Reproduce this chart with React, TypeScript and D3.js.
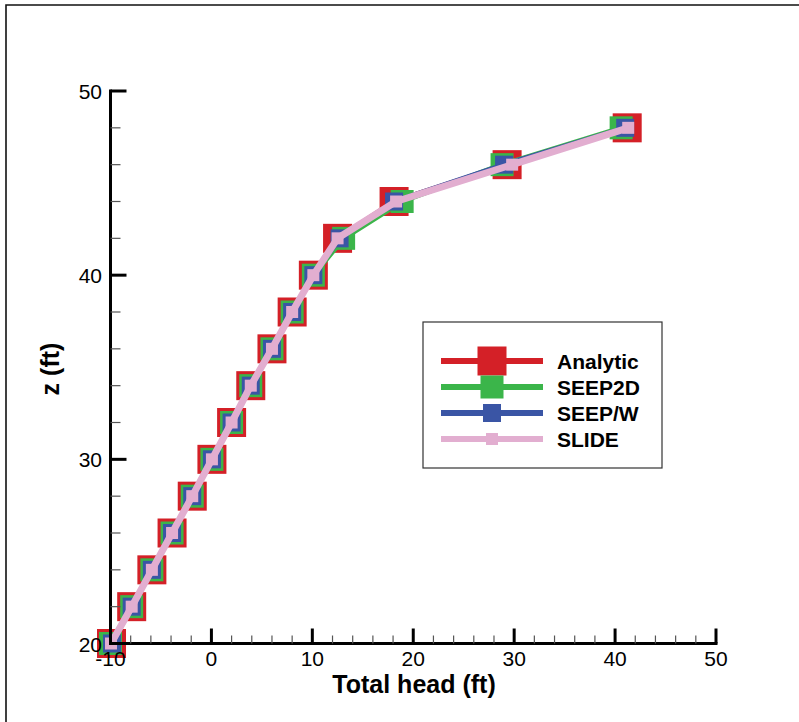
import React from "react";
import * as d3 from "d3";

const zValues = [20, 22, 24, 26, 28, 30, 32, 34, 36, 38, 40, 42, 44, 46, 48];
const analytic = [-9.9, -7.9, -5.9, -3.9, -1.9, 0.05, 2.0, 3.9, 6.0, 8.0, 10.1, 12.5, 18.1, 29.3, 41.2];
const seep2d = [-10.0, -7.9, -5.9, -3.9, -1.9, 0.05, 2.0, 3.9, 6.0, 8.0, 10.1, 13.1, 18.9, 28.8, 40.6];
const seepw = [-9.85, -7.9, -5.9, -3.9, -1.9, 0.05, 2.0, 3.9, 6.0, 8.0, 10.1, 12.7, 18.1, 29.0, 41.0];
const slide = [-9.95, -7.9, -5.9, -3.9, -1.9, 0.05, 2.0, 3.9, 6.0, 8.0, 10.1, 12.5, 18.3, 29.8, 41.3];

const seriesNames = ["Analytic", "SEEP2D", "SEEP/W", "SLIDE"];
const seriesColors = ["#d42027", "#3bb54a", "#3a55a5", "#e2aed0"];
const markerSizes = [29, 23, 18, 12];
const seriesData = [analytic, seep2d, seepw, slide];

const xTicks = [-10, 0, 10, 20, 30, 40, 50];
const yTicks = [20, 30, 40, 50];

export default function App() {
  const x = d3.scaleLinear().domain([-10, 50]).range([110.5, 716]);
  const y = d3.scaleLinear().domain([20, 50]).range([643.5, 91]);
  const xMinor = d3.range(-10, 50.01, 2);
  const yMinor = d3.range(20, 50.01, 2);
  const line = d3
    .line<[number, number]>()
    .x((d) => x(d[0]))
    .y((d) => y(d[1]));
  const font = "'Liberation Sans', Arial, sans-serif";
  const legendRows = [361, 387, 413, 439];

  return (
    <svg
      width={799}
      height={722}
      style={{ position: "absolute", left: 0, top: 0 }}
    >
      <rect x={0} y={0} width={799} height={722} fill="#fff" />
      <path d="M6,730 L6,5 L800,5" fill="none" stroke="#111" strokeWidth={1.6} />

      {seriesData.map((vals, si) => {
        const pts = vals.map((v, i) => [v, zValues[i]] as [number, number]);
        const s = markerSizes[si];
        return (
          <g key={si}>
            <path
              d={line(pts) || ""}
              fill="none"
              stroke={seriesColors[si]}
              strokeWidth={si === 3 ? 7 : 5}
              strokeLinejoin="round"
            />
            {pts.map((p, i) => (
              <rect
                key={i}
                x={x(p[0]) - s / 2}
                y={y(p[1]) - s / 2}
                width={s}
                height={s}
                fill={seriesColors[si]}
              />
            ))}
          </g>
        );
      })}

      {/* axes */}
      <g stroke="#000">
        <line x1={x(-10)} x2={x(-10)} y1={y(50) - 1.5} y2={y(20) + 1.5} strokeWidth={3} />
        <line x1={x(-10) - 1.5} x2={x(50) + 1.5} y1={y(20)} y2={y(20)} strokeWidth={3} />
        {xMinor.map((v) => {
          const major = xTicks.includes(Math.round(v));
          return (
            <line
              key={"xm" + v}
              x1={x(v)}
              x2={x(v)}
              y1={y(20)}
              y2={y(20) - (major ? 15 : 8)}
              strokeWidth={major ? 3 : 1.2}
              stroke={major ? "#000" : "#555"}
            />
          );
        })}
        {yMinor.map((v) => {
          const major = yTicks.includes(Math.round(v));
          return (
            <line
              key={"ym" + v}
              x1={x(-10)}
              x2={x(-10) + (major ? 16 : 10)}
              y1={y(v)}
              y2={y(v)}
              strokeWidth={major ? 3 : 1.2}
              stroke={major ? "#000" : "#555"}
            />
          );
        })}
      </g>
      <g fontFamily={font} fontSize={21} fill="#000">
        {xTicks.map((t) => (
          <text key={"xt" + t} x={x(t)} y={666} textAnchor="middle">
            {t}
          </text>
        ))}
        {yTicks.map((t) => (
          <text key={"yt" + t} x={102} y={y(t) + 8} textAnchor="end">
            {t}
          </text>
        ))}
      </g>
      <text
        x={414}
        y={693}
        textAnchor="middle"
        fontFamily={font}
        fontWeight="bold"
        fontSize={25}
      >
        Total head (ft)
      </text>
      <text
        transform="translate(59,369) rotate(-90)"
        textAnchor="middle"
        fontFamily={font}
        fontWeight="bold"
        fontSize={25}
      >
        z (ft)
      </text>

      {/* legend */}
      <rect x={423} y={322} width={239} height={146} fill="#fff" stroke="#333" strokeWidth={1.2} />
      {seriesNames.map((n, i) => {
        const s = markerSizes[i];
        const cy = legendRows[i];
        return (
          <g key={n}>
            <line x1={441} x2={543} y1={cy} y2={cy} stroke={seriesColors[i]} strokeWidth={6} />
            <rect x={492 - s / 2} y={cy - s / 2} width={s} height={s} fill={seriesColors[i]} />
            <text
              x={557}
              y={cy + 7.5}
              fontFamily={font}
              fontWeight="bold"
              fontSize={21}
            >
              {n}
            </text>
          </g>
        );
      })}
    </svg>
  );
}
